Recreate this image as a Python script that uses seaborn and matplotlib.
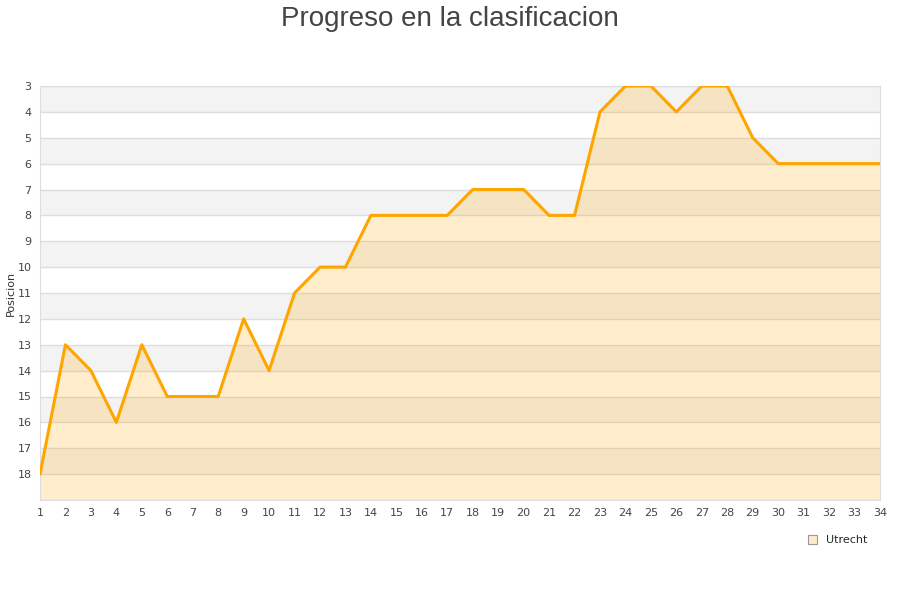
import matplotlib
matplotlib.use("Agg")
import matplotlib.pyplot as plt
import seaborn as sns
import pandas as pd

# Jornadas y posiciones
jornadas = list(range(1, 35))
posiciones = [18, 13, 14, 16, 13, 15, 15, 15, 12, 14,
              11, 10, 10, 8, 8, 8, 8, 7, 7, 7,
              8, 8, 4, 3, 3, 4, 3, 3, 5, 6,
              6, 6, 6, 6]
equipo = "Utrecht"

df = pd.DataFrame({"Jornada": jornadas, "Posicion": posiciones})

sns.set_style("white")
plt.rcParams["font.family"] = ["DejaVu Sans"]

fig = plt.figure(figsize=(9, 6), dpi=100)
ax = fig.add_axes([40 / 900, 100 / 600, 840 / 900, 414 / 600])

# Alternating bands
for y0 in range(3, 19, 2):
    ax.axhspan(y0, y0 + 1, color="#f3f3f3", zorder=0, lw=0)
for y in range(3, 20):
    ax.axhline(y, color="#dddddd", lw=1, zorder=1)

ax.fill_between(df["Jornada"], df["Posicion"], 19, color="orange", alpha=0.2,
                lw=0, zorder=2)
sns.lineplot(data=df, x="Jornada", y="Posicion", color="#ffa500", lw=2.2,
             ax=ax, zorder=3)

ax.set_xlim(1, 34)
ax.set_ylim(19, 3)
ax.set_xticks(jornadas)
ax.set_yticks(range(3, 19))
ax.tick_params(axis="both", labelsize=8, colors="#444444", length=0, pad=6)
ax.set_xlabel("")
ax.set_ylabel("Posicion", fontsize=8, color="#333333", labelpad=1)
for s in ax.spines.values():
    s.set_color("#dddddd")

fig.text(0.5, 0.99, "Progreso en la clasificacion", ha="center", va="top",
         fontsize=20, color="#444444", family=["Liberation Sans", "DejaVu Sans"])

# Legend
legend_handle = plt.Rectangle((0, 0), 1, 1, facecolor="#ffebcc",
                              edgecolor="#999999", lw=0.8)
fig.legend([legend_handle], [equipo], loc="upper right",
           bbox_to_anchor=(0.975, 0.125), frameon=False, fontsize=8,
           handlelength=0.8, handleheight=0.8)

fig.savefig("out.png", dpi=100)
